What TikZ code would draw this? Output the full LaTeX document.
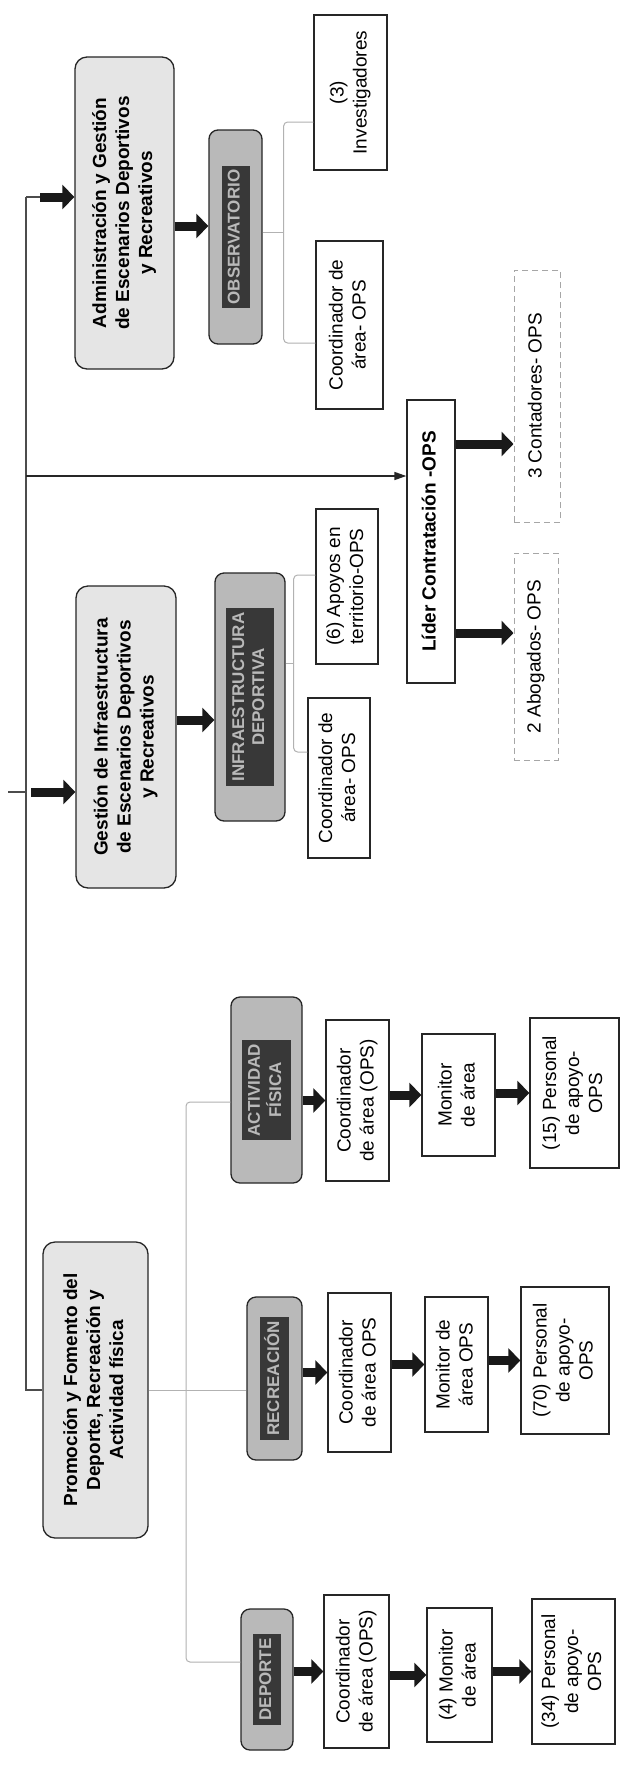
\documentclass[tikz,border=0pt]{standalone}
\usepackage{fontspec}
\setmainfont{Liberation Sans}
\usetikzlibrary{arrows.meta}
\newcommand{\vtext}[1]{\rotatebox{90}{\begin{tabular}{@{}c@{}}#1\end{tabular}}}
\newcommand{\dtext}[1]{\rotatebox{90}{\setlength{\fboxsep}{4pt}\colorbox{black!78}{\color{gray!55}\begin{tabular}{@{}c@{}}#1\end{tabular}}}}
\begin{document}
\begin{tikzpicture}[x=1pt,y=-1pt,
  every node/.style={font=\fontsize{19}{23}\selectfont, inner sep=0pt, align=center},
  lightbox/.style={draw=black!85, line width=1.3pt, fill=gray!20, rounded corners=12pt, font=\fontsize{19}{23}\selectfont\bfseries},
  darkbox/.style={draw=black!85, line width=1.3pt, fill=gray!55, rounded corners=9pt, font=\fontsize{17}{20}\selectfont\bfseries},
  plainbox/.style={draw=black!85, line width=1.3pt, fill=white},
  dashbox/.style={draw=gray!70, line width=1pt, dash pattern=on 6pt off 4pt},
  bus/.style={draw=black!70, line width=1.3pt},
  brk/.style={draw=gray!60, line width=1pt, rounded corners=4pt},
  fat/.style={draw=black!90, line width=9pt, -{Triangle[length=12pt,width=24pt]}},
  thinarrow/.style={draw=black!85, line width=1.6pt, -{Triangle[length=12pt,width=8pt]}},
]
\fill[white] (0,0) rectangle (620,1765);
\useasboundingbox (0,0) rectangle (620,1765);

% ---- Administración group
\node[lightbox, minimum width=99, minimum height=312] (admin) at (124.5,213)
  {\vtext{Administración y Gestión\\de Escenarios Deportivos\\y Recreativos}};
\node[darkbox, minimum width=53, minimum height=214] (obs) at (235.5,237) {\dtext{OBSERVATORIO}};
\node[plainbox, minimum width=73, minimum height=155] (inv) at (350.5,92.5) {\vtext{(3)\\Investigadores}};
\node[plainbox, minimum width=67, minimum height=168] (coordA) at (349.5,325) {\vtext{Coordinador de\\área- OPS}};

% ---- Líder
\node[plainbox, minimum width=48, minimum height=283, font=\fontsize{19}{23}\selectfont\bfseries] (lider) at (431,541.5) {\vtext{Líder Contratación -OPS}};
\node[dashbox, minimum width=46, minimum height=252] (cont) at (537,396) {\vtext{3 Contadores- OPS}};
\node[dashbox, minimum width=44, minimum height=207] (abog) at (536,656.5) {\vtext{2 Abogados- OPS}};

% ---- Gestión group
\node[lightbox, minimum width=100, minimum height=302] (gest) at (126,737)
  {\vtext{Gestión de Infraestructura\\de Escenarios Deportivos\\y Recreativos}};
\node[darkbox, minimum width=70, minimum height=248] (dark2) at (250,697) {\dtext{INFRAESTRUCTURA\\DEPORTIVA}};
\node[plainbox, minimum width=62, minimum height=155] (apoyo) at (347,586.5) {\vtext{(6) Apoyos en\\territorio-OPS}};
\node[plainbox, minimum width=62, minimum height=160] (coordG) at (339,778) {\vtext{Coordinador de\\área- OPS}};

% ---- Promoción group
\node[lightbox, minimum width=105, minimum height=296] (prom) at (95.5,1390)
  {\vtext{Promoción y Fomento del\\Deporte, Recreación y\\Actividad física}};

\node[darkbox, minimum width=71, minimum height=186] (darkA) at (266.5,1090) {\dtext{ACTIVIDAD\\FÍSICA}};
\node[plainbox, minimum width=63, minimum height=161] (coordAF) at (357.5,1100.5) {\vtext{Coordinador\\de área (OPS)}};
\node[plainbox, minimum width=73, minimum height=122] (monA) at (458.5,1095) {\vtext{Monitor\\de área}};
\node[plainbox, minimum width=89, minimum height=150] (persA) at (574.5,1093) {\vtext{(15) Personal\\de apoyo-\\OPS}};

\node[darkbox, minimum width=55, minimum height=163] (darkM) at (274.5,1378.5) {\dtext{RECREACIÓN}};
\node[plainbox, minimum width=63, minimum height=159] (coordM) at (359.5,1372.5) {\vtext{Coordinador\\de área OPS}};
\node[plainbox, minimum width=63, minimum height=135] (monM) at (456.5,1364.5) {\vtext{Monitor de\\área OPS}};
\node[plainbox, minimum width=88, minimum height=147] (persM) at (565,1360.5) {\vtext{(70) Personal\\de apoyo-\\OPS}};

\node[darkbox, minimum width=52, minimum height=141] (darkB) at (267,1679.5) {\dtext{DEPORTE}};
\node[plainbox, minimum width=65, minimum height=153] (coordB) at (356.5,1671.5) {\vtext{Coordinador\\de área (OPS)}};
\node[plainbox, minimum width=65, minimum height=134] (monB) at (459.5,1675) {\vtext{(4) Monitor\\de área}};
\node[plainbox, minimum width=83, minimum height=145] (persB) at (573.5,1671.5) {\vtext{(34) Personal\\de apoyo-\\OPS}};

% ---- main bus
\coordinate (bt) at (26,197);
\coordinate (bl) at (26,476);
\coordinate (bs) at (26,792);
\coordinate (stub) at (8,792);
\draw[bus] (bt) -- (bt |- prom.west) -- (prom.west);
\draw[bus] (bt) -- ([xshift=18pt]bt);
\draw[fat] ([xshift=14pt]bt) -- (admin.west |- bt);
\draw[bus] (stub) -- (bs);
\draw[fat] ([xshift=5pt]bs) -- (gest.west |- bs);
\draw[thinarrow] (bl) -- (lider.west |- bl);

% ---- Administración connectors
\coordinate (a1) at ([yshift=11pt]obs.west);
\draw[fat] (admin.east |- a1) -- (a1);
\draw[brk] ([yshift=5pt]obs.east) -- ++(21,0) coordinate (j1);
\draw[brk] ([yshift=-29.5pt]inv.west) -| (j1) |- ([yshift=-18pt]coordA.west);

% ---- Líder connectors
\coordinate (l1) at ([yshift=97.5pt]lider.east);
\coordinate (l2) at ([yshift=-91.5pt]lider.east);
\draw[fat] (l1) -- (cont.west |- l1);
\draw[fat] (l2) -- (abog.west |- l2);

% ---- Gestión connectors
\coordinate (g1) at ([yshift=-23pt]dark2.west);
\draw[fat] (gest.east |- g1) -- (g1);
\draw[brk] ([yshift=34pt]dark2.east) -- ++(8,0) coordinate (j2);
\draw[brk] ([yshift=11.5pt]apoyo.west) -| (j2) |- ([yshift=26pt]coordG.west);

% ---- Promoción connectors
\coordinate (pbus) at (186,1390);
\draw[brk] (prom.east) -- (darkM.west |- prom.east);
\draw[brk] ([yshift=-12pt]darkA.west) -| (pbus) |- ([yshift=17.5pt]darkB.west);

\draw[fat] (darkA.east |- coordAF.west) -- (coordAF.west);
\draw[fat] (coordAF.east |- monA.west) -- (monA.west);
\draw[fat] (monA.east |- persA.west) -- (persA.west);

\draw[fat] (darkM.east |- coordM.west) -- (coordM.west);
\draw[fat] (coordM.east |- monM.west) -- (monM.west);
\draw[fat] (monM.east |- persM.west) -- (persM.west);

\draw[fat] (darkB.east |- coordB.west) -- (coordB.west);
\draw[fat] (coordB.east |- monB.west) -- (monB.west);
\draw[fat] (monB.east |- persB.west) -- (persB.west);
\end{tikzpicture}
\end{document}
